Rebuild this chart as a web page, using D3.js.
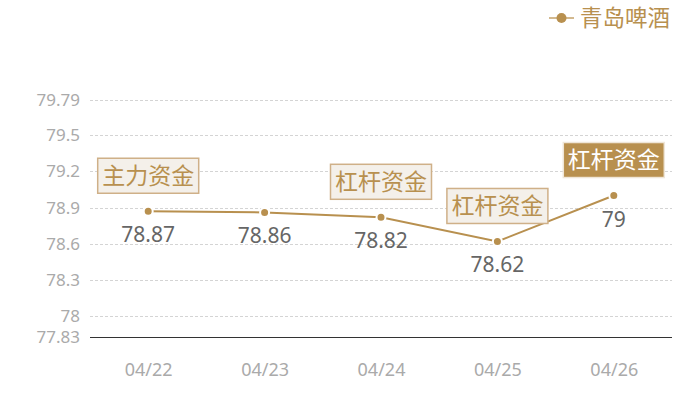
<!DOCTYPE html>
<html>
<head>
<meta charset="utf-8">
<script src="https://cdn.jsdelivr.net/npm/d3@7"></script>
<style>
  html, body { margin: 0; padding: 0; background: #fff; }
  svg { display: block; font-family: "Noto Sans CJK SC", "Noto Sans", sans-serif; }
</style>
</head>
<body>
<div id="chart"></div>
<script>
const dates = ["04/22", "04/23", "04/24", "04/25", "04/26"];
const values = [78.87, 78.86, 78.82, 78.62, 79];
const yTicks = [77.83, 78, 78.3, 78.6, 78.9, 79.2, 79.5, 79.79];
const seriesName = "青岛啤酒";
// annotation per point: null = none, highlight = filled box
const notes = [
  { text: "主力资金", highlight: false },
  null,
  { text: "杠杆资金", highlight: false },
  { text: "杠杆资金", highlight: false },
  { text: "杠杆资金", highlight: true }
];

const width = 700;
const height = 400;
const margin = { top: 100, right: 28, bottom: 63, left: 90 };
const gold = "#b8904f";

const svg = d3.select("#chart")
  .append("svg")
  .attr("width", width)
  .attr("height", height);

const x = d3.scalePoint()
  .domain(dates)
  .range([margin.left, width - margin.right])
  .padding(0.5);

const y = d3.scaleLinear()
  .domain([77.83, 79.79])
  .range([height - margin.bottom, margin.top]);

// grid lines
svg.append("g")
  .selectAll("line")
  .data(yTicks.slice(1))
  .join("line")
  .attr("x1", margin.left)
  .attr("x2", width - margin.right)
  .attr("y1", d => Math.round(y(d)) + 0.5)
  .attr("y2", d => Math.round(y(d)) + 0.5)
  .attr("stroke", "#d4d4d4")
  .attr("stroke-dasharray", "3,2");

// y axis labels
const yAxis = svg.append("g")
  .attr("transform", `translate(${margin.left},0)`)
  .call(d3.axisLeft(y).tickValues(yTicks).tickSize(0).tickPadding(10).tickFormat(d => d));
yAxis.select(".domain").remove();
yAxis.selectAll("text")
  .attr("fill", "#aaa")
  .attr("font-size", 17)
  .style("font-family", "'Noto Sans', sans-serif");

// x axis
const xAxis = svg.append("g")
  .attr("transform", `translate(0,${height - margin.bottom + 0.5})`)
  .call(d3.axisBottom(x).tickSize(0).tickPadding(26));
xAxis.select(".domain")
  .attr("stroke", "#333")
  .attr("d", `M${margin.left},0H${width - margin.right}`);
xAxis.selectAll("text")
  .attr("fill", "#aaa")
  .attr("font-size", 18)
  .style("font-family", "'Noto Sans', sans-serif");

const points = dates.map((d, i) => ({ date: d, value: values[i], note: notes[i] }));

const line = d3.line()
  .x(d => x(d.date))
  .y(d => y(d.value));

svg.append("path")
  .datum(points)
  .attr("fill", "none")
  .attr("stroke", gold)
  .attr("stroke-width", 2)
  .attr("d", line);

svg.append("g")
  .selectAll("circle")
  .data(points)
  .join("circle")
  .attr("cx", d => x(d.date))
  .attr("cy", d => y(d.value))
  .attr("r", 4.5)
  .attr("fill", gold)
  .attr("stroke", "#fff")
  .attr("stroke-width", 2);

// value labels
svg.append("g")
  .selectAll("text")
  .data(points)
  .join("text")
  .attr("x", d => x(d.date))
  .attr("y", d => y(d.value) + 31)
  .attr("text-anchor", "middle")
  .attr("fill", "#666")
  .attr("font-size", 21)
  .style("font-family", "'Noto Sans', sans-serif")
  .text(d => d.value);

// annotation boxes
const boxW = 101;
const boxH = 35;
const noteG = svg.append("g")
  .selectAll("g")
  .data(points.filter(d => d.note))
  .join("g")
  .attr("transform", d => `translate(${x(d.date)},${y(d.value) - 18 - boxH / 2})`);

noteG.append("rect")
  .attr("x", -boxW / 2)
  .attr("y", -boxH / 2)
  .attr("width", boxW)
  .attr("height", boxH)
  .attr("fill", d => d.note.highlight ? gold : "#f4f0ea")
  .attr("stroke", d => d.note.highlight ? "#efe6d8" : "#cfb088")
  .attr("stroke-width", 1.5);

noteG.append("text")
  .attr("text-anchor", "middle")
  .attr("dy", "0.36em")
  .attr("font-size", 23)
  .attr("fill", d => d.note.highlight ? "#fff" : gold)
  .text(d => d.note.text);

// legend
const legend = svg.append("g").attr("transform", "translate(549,18)");
legend.append("line")
  .attr("x1", 0).attr("x2", 25)
  .attr("stroke", "#d3b98f")
  .attr("stroke-width", 2);
legend.append("circle")
  .attr("cx", 12.5)
  .attr("r", 5)
  .attr("fill", gold);
legend.append("text")
  .attr("x", 31)
  .attr("dy", "0.36em")
  .attr("font-size", 22.5)
  .attr("fill", gold)
  .text(seriesName);
</script>
</body>
</html>
